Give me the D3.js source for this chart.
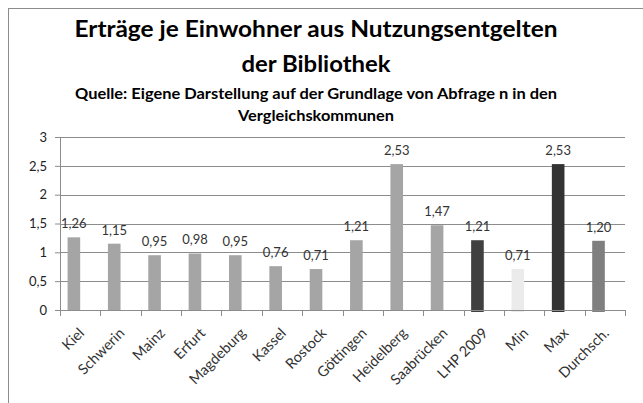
<!DOCTYPE html>
<html>
<head>
<meta charset="utf-8">
<script src="https://cdn.jsdelivr.net/npm/d3@7"></script>
<style>
  body { margin: 0; background: #fff; }
  svg { display: block; font-family: Lato, "Open Sans", sans-serif; }
</style>
</head>
<body>
<div id="chart"></div>
<script>
// Kategorien und Werte (Erträge je Einwohner)
const categories = ['Kiel', 'Schwerin', 'Mainz', 'Erfurt', 'Magdeburg', 'Kassel', 'Rostock',
    'Göttingen', 'Heidelberg', 'Saabrücken', 'LHP 2009', 'Min', 'Max', 'Durchsch.'];
const values = [1.26, 1.15, 0.95, 0.98, 0.95, 0.76, 0.71, 1.21, 2.53, 1.47, 1.21, 0.71, 2.53, 1.20];
const yTicks = [0, 0.5, 1, 1.5, 2, 2.5, 3];
const titleLines = ['Erträge je Einwohner aus Nutzungsentgelten', 'der Bibliothek'];
const subtitleLines = ['Quelle: Eigene Darstellung auf der Grundlage von Abfrage n in den', 'Vergleichskommunen'];

const barColors = {
    'LHP 2009': '#404040',
    'Min': '#ebebeb',
    'Max': '#333333',
    'Durchsch.': '#7f7f7f'
};
const defaultColor = '#a5a5a5';

const width = 643, height = 403;
const margin = { top: 137, right: 18, bottom: 93, left: 60 };
const innerW = width - margin.left - margin.right;
const innerH = height - margin.top - margin.bottom;

const svg = d3.select('#chart').append('svg')
    .attr('width', width)
    .attr('height', height);

// Rahmen des Diagramms
svg.append('rect')
    .attr('x', 8.5).attr('y', 8.5)
    .attr('width', 700).attr('height', 500)
    .attr('fill', 'none')
    .attr('stroke', '#8c8c8c');

// Titel
svg.selectAll('.title')
    .data(titleLines)
    .enter()
    .append('text')
    .attr('class', 'title')
    .attr('x', 316)
    .attr('y', (d, i) => 37 + i * 35)
    .attr('text-anchor', 'middle')
    .attr('font-size', '23px')
    .attr('font-weight', 'bold')
    .attr('fill', '#000')
    .attr('textLength', (d, i) => i === 0 ? 483 : 149)
    .attr('lengthAdjust', 'spacingAndGlyphs')
    .text(d => d);

svg.selectAll('.subtitle')
    .data(subtitleLines)
    .enter()
    .append('text')
    .attr('class', 'subtitle')
    .attr('x', 316)
    .attr('y', (d, i) => 99 + i * 22)
    .attr('text-anchor', 'middle')
    .attr('font-size', '15px')
    .attr('font-weight', 'bold')
    .attr('fill', '#000')
    .attr('textLength', (d, i) => i === 0 ? 482 : 156)
    .attr('lengthAdjust', 'spacingAndGlyphs')
    .text(d => d);

const g = svg.append('g')
    .attr('transform', `translate(${margin.left},${margin.top})`);

const x = d3.scaleBand()
    .domain(categories)
    .range([0, innerW])
    .padding(0);

// zweite (leere) Reihe verschiebt die Balken nach links
const xSub = d3.scaleBand()
    .domain(['wert', 'leer'])
    .range([0, x.bandwidth()])
    .paddingInner(0)
    .paddingOuter(0.6);

const y = d3.scaleLinear()
    .domain([0, 3])
    .range([innerH, 0]);

const fmt = v => String(v).replace('.', ',');
const fmt2 = v => v.toFixed(2).replace('.', ',');

// Gitterlinien
g.selectAll('.grid')
    .data(yTicks.filter(t => t > 0))
    .enter()
    .append('line')
    .attr('class', 'grid')
    .attr('x1', 0).attr('x2', innerW)
    .attr('y1', d => Math.round(y(d)) + 0.5)
    .attr('y2', d => Math.round(y(d)) + 0.5)
    .attr('stroke', '#8c8c8c');

// Y-Achse
const yAxis = g.append('g')
    .call(d3.axisLeft(y).tickValues(yTicks).tickFormat(fmt).tickSize(5).tickPadding(8));
yAxis.select('.domain').attr('stroke', '#8c8c8c');
yAxis.selectAll('.tick line').attr('stroke', '#8c8c8c');
yAxis.selectAll('.tick text')
    .attr('font-size', '13px')
    .attr('font-family', 'Lato, sans-serif')
    .attr('fill', '#222');

// Balken
g.selectAll('.bar')
    .data(categories)
    .enter()
    .append('rect')
    .attr('class', 'bar')
    .attr('x', (d, i) => x(d) + xSub('wert'))
    .attr('y', (d, i) => y(values[i]))
    .attr('width', xSub.bandwidth())
    .attr('height', (d, i) => innerH - y(values[i]) + (barColors[d] ? 2 : 0))
    .attr('fill', d => barColors[d] || defaultColor);

// Werte über den Balken
g.selectAll('.label')
    .data(categories)
    .enter()
    .append('text')
    .attr('class', 'label')
    .attr('x', d => x(d) + xSub('wert') + xSub.bandwidth() / 2)
    .attr('y', (d, i) => y(values[i]) - 9)
    .attr('text-anchor', 'middle')
    .attr('font-size', '13px')
    .attr('fill', '#333')
    .text((d, i) => fmt2(values[i]));

// X-Achse
const xAxis = g.append('g')
    .attr('transform', `translate(0,${innerH})`);
xAxis.append('line')
    .attr('x1', 0).attr('x2', innerW)
    .attr('y1', 0.5).attr('y2', 0.5)
    .attr('stroke', '#8c8c8c');
xAxis.selectAll('.xtick')
    .data(categories.concat(['_end']))
    .enter()
    .append('line')
    .attr('class', 'xtick')
    .attr('x1', (d, i) => Math.round(i * x.step()) + 0.5)
    .attr('x2', (d, i) => Math.round(i * x.step()) + 0.5)
    .attr('y1', 0).attr('y2', 6)
    .attr('stroke', '#8c8c8c');
xAxis.selectAll('.xlabel')
    .data(categories)
    .enter()
    .append('text')
    .attr('class', 'xlabel')
    .attr('transform', d => `translate(${x(d) + x.bandwidth() / 2 + 5},${24}) rotate(-45)`)
    .attr('text-anchor', 'end')
    .attr('font-size', '14.5px')
    .attr('fill', '#333')
    .text(d => d);
</script>
</body>
</html>
